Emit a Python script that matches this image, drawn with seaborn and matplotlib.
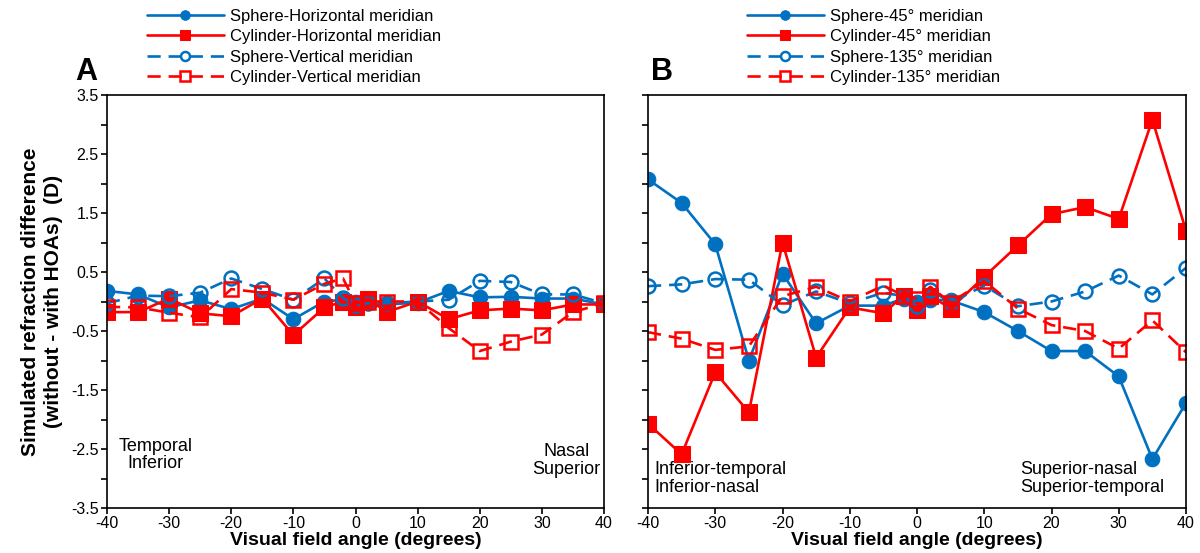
import matplotlib
matplotlib.use("Agg")
import matplotlib.pyplot as plt
import seaborn as sns
import numpy as np

# ---------------- data ----------------
angles = [-40, -35, -30, -25, -20, -15, -10, -5, -2, 0, 2, 5, 10, 15, 20, 25, 30, 35, 40]

# Panel A
sphere_h = [0.18, 0.12, -0.10, 0.02, -0.13, 0.05, -0.30, 0.00, 0.03, 0.00, -0.03, -0.05, -0.02, 0.18, 0.07, 0.08, 0.05, 0.05, -0.05]
cyl_h    = [-0.18, -0.18, 0.05, -0.20, -0.25, 0.05, -0.57, -0.10, 0.00, -0.10, 0.05, -0.18, 0.00, -0.30, -0.15, -0.12, -0.15, -0.05, -0.05]
sphere_v = [-0.03, 0.10, 0.09, 0.15, 0.39, 0.21, 0.03, 0.39, 0.06, -0.06, -0.03, -0.03, 0.00, 0.03, 0.35, 0.33, 0.12, 0.12, -0.03]
cyl_v    = [-0.09, -0.10, -0.19, -0.27, 0.21, 0.15, 0.03, 0.30, 0.39, -0.03, 0.00, 0.00, 0.00, -0.45, -0.84, -0.68, -0.56, -0.18, -0.03]

# Panel B
sphere_45  = [2.07, 1.67, 0.97, -1.00, 0.47, -0.37, -0.07, -0.07, 0.05, 0.00, 0.03, 0.02, -0.18, -0.50, -0.84, -0.84, -1.27, -2.67, -1.72]
cyl_45     = [-2.07, -2.59, -1.20, -1.88, 1.00, -0.95, -0.10, -0.20, 0.10, -0.15, 0.10, -0.12, 0.42, 0.95, 1.48, 1.60, 1.40, 3.08, 1.20]
sphere_135 = [0.26, 0.29, 0.38, 0.37, -0.06, 0.17, -0.03, 0.15, 0.09, -0.08, 0.20, -0.02, 0.27, -0.08, 0.00, 0.17, 0.44, 0.12, 0.57]
cyl_135    = [-0.52, -0.63, -0.82, -0.76, 0.09, 0.25, 0.00, 0.27, 0.10, 0.05, 0.25, -0.02, 0.35, -0.12, -0.40, -0.50, -0.80, -0.32, -0.86]

labels_a = ["Sphere-Horizontal meridian", "Cylinder-Horizontal meridian",
            "Sphere-Vertical meridian", "Cylinder-Vertical meridian"]
labels_b = ["Sphere-45\u00b0 meridian", "Cylinder-45\u00b0 meridian",
            "Sphere-135\u00b0 meridian", "Cylinder-135\u00b0 meridian"]

xticks = [-40, -30, -20, -10, 0, 10, 20, 30, 40]
yticks = [3.5, 2.5, 1.5, 0.5, -0.5, -1.5, -2.5, -3.5]

# ---------------- style ----------------
sns.set_style("ticks")
plt.rcParams['font.family'] = ['Liberation Sans', 'DejaVu Sans']
plt.rcParams['axes.unicode_minus'] = False
plt.rcParams['text.color'] = 'black'
plt.rcParams['axes.labelcolor'] = 'black'
plt.rcParams['xtick.color'] = 'black'
plt.rcParams['ytick.color'] = 'black'

BLUE = "#0070C0"
RED = "#FF0000"

TOP, BOT = 95, 508
fig = plt.figure(figsize=(12, 5.53), dpi=100)
axA = fig.add_axes([107/1200, 1-BOT/553, (604-107)/1200, (BOT-TOP)/553])
axB = fig.add_axes([648/1200, 1-BOT/553, (1186-648)/1200, (BOT-TOP)/553])


def draw(ax, series, labels):
    styles = [
        dict(color=BLUE, marker='o', linestyle='-', markersize=10.5, mfc=BLUE, mec=BLUE),
        dict(color=RED, marker='s', linestyle='-', markersize=11, mfc=RED, mec=RED),
        dict(color=BLUE, marker='o', linestyle=(0, (5, 3)), markersize=10, mfc='none', mec=BLUE, mew=1.8),
        dict(color=RED, marker='s', linestyle=(0, (5, 3)), markersize=10, mfc='none', mec=RED, mew=1.8),
    ]
    for vals, lab, st in zip(series, labels, styles):
        sns.lineplot(x=angles, y=vals, ax=ax, label=lab, linewidth=1.9, **st)


draw(axA, [sphere_h, cyl_h, sphere_v, cyl_v], labels_a)
draw(axB, [sphere_45, cyl_45, sphere_135, cyl_135], labels_b)

for ax in (axA, axB):
    ax.set_xlim(-40, 40)
    ax.set_ylim(-3.5, 3.5)
    ax.set_xticks(xticks)
    ax.set_yticks(yticks)
    ax.set_yticks(np.arange(-3.0, 3.01, 1.0), minor=True)
    for s in ax.spines.values():
        s.set_visible(True)
        s.set_color('black')
        s.set_linewidth(1.2)
    ax.tick_params(axis='both', which='both', direction='out', color='black',
                   labelcolor='black', width=1.2)
    ax.tick_params(axis='both', which='major', length=4.5, labelsize=11.5, pad=1.5)
    ax.tick_params(axis='y', which='minor', length=4.5)
    ax.set_xlabel("Visual field angle (degrees)", fontsize=14, fontweight='bold', color='black')
    ax.xaxis.set_label_coords(0.5, -(532-BOT)/(BOT-TOP))
    ax.xaxis.label.set_va('top')
    ax.set_ylabel("")
    ax.get_legend().remove()

axA.set_yticklabels([f"{v:.1f}" for v in yticks])
axB.set_yticklabels([])
axA.set_ylabel("Simulated refraction difference\n(without - with HOAs)  (D)",
               fontsize=15, fontweight='bold', linespacing=1.25, color='black')
axA.yaxis.set_label_coords(-(107-42)/497, 0.5)
axA.yaxis.label.set_va('center')

# Region annotations
axA.text(-32.2, -2.6, "Temporal\nInferior", ha='center', va='center', fontsize=13, linespacing=1.05)
axA.text(34.0, -2.7, "Nasal\nSuperior", ha='center', va='center', fontsize=13, linespacing=1.05)
axB.text(-39.0, -3.0, "Inferior-temporal\nInferior-nasal", ha='left', va='center', fontsize=13, linespacing=1.0)
axB.text(15.3, -3.0, "Superior-nasal\nSuperior-temporal", ha='left', va='center', fontsize=13, linespacing=1.0)

# Panel letters
fig.text(75/1200, 1-72/553, "A", fontsize=22, fontweight='bold', va='center', ha='left')
fig.text(651/1200, 1-72/553, "B", fontsize=22, fontweight='bold', va='center', ha='left')

# Legends
hA, lA = axA.get_legend_handles_labels()
hB, lB = axB.get_legend_handles_labels()
leg_kw = dict(loc='upper left', frameon=False, fontsize=12, handlelength=4.6,
              handletextpad=0.35, labelspacing=0.32, borderpad=0, borderaxespad=0,
              markerscale=0.65, labelcolor='black')
fig.legend(hA, lA, bbox_to_anchor=(147/1200, 1-9/553), **leg_kw)
fig.legend(hB, lB, bbox_to_anchor=(747/1200, 1-9/553), **leg_kw)

fig.savefig("out.png", dpi=100)
